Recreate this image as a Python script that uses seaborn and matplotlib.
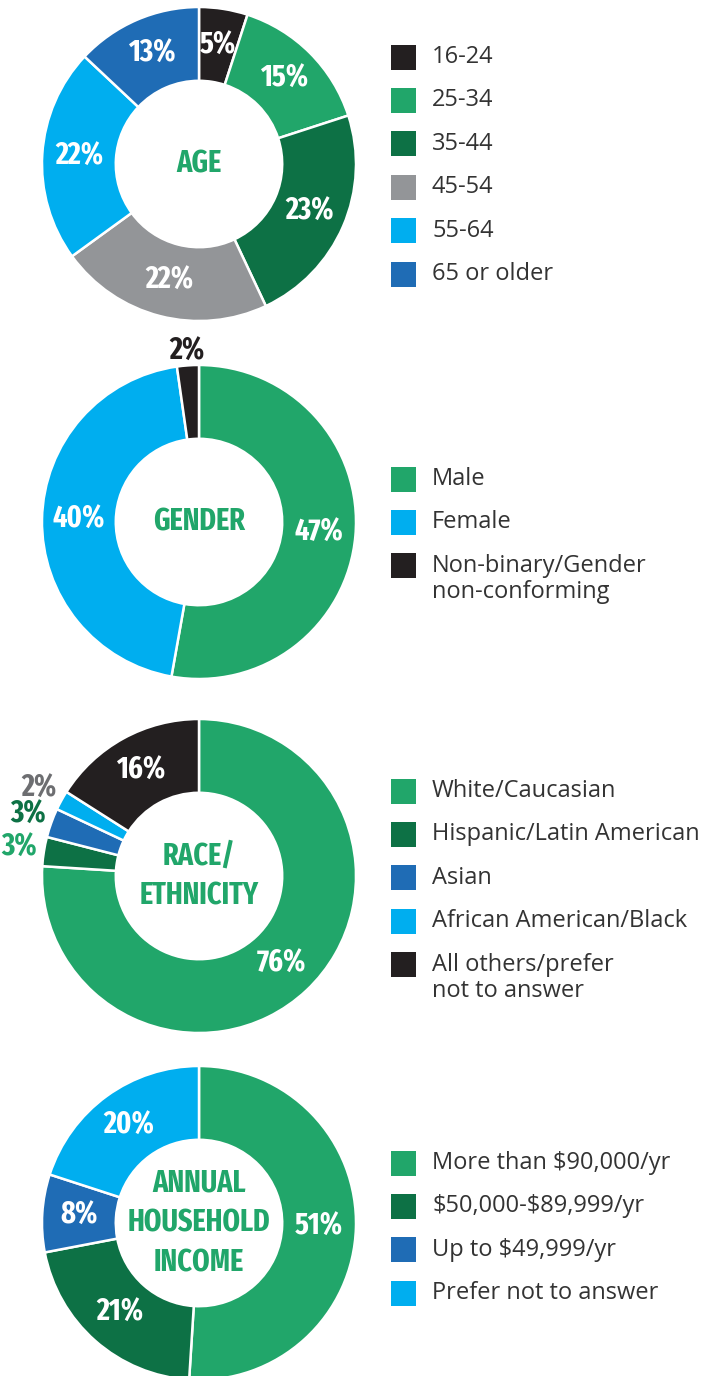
"""Survey demographics: four donut charts with side legends."""

import matplotlib.pyplot as plt
import numpy as np
import seaborn as sns
from matplotlib.patches import Rectangle

# ---- data -----------------------------------------------------------------
age_labels = ["16-24", "25-34", "35-44", "45-54", "55-64", "65 or older"]
age_values = [5, 15, 23, 22, 22, 13]

gender_labels = ["Male", "Female", "Non-binary/Gender\nnon-conforming"]
gender_values = [47, 40, 2]

race_labels = ["White/Caucasian", "Hispanic/Latin American", "Asian",
               "African American/Black", "All others/prefer\nnot to answer"]
race_values = [76, 3, 3, 2, 16]

income_labels = ["More than $90,000/yr", "$50,000-$89,999/yr",
                 "Up to $49,999/yr", "Prefer not to answer"]
income_values = [51, 21, 8, 20]

# ---- styles ---------------------------------------------------------------
BLACK = "#231f20"
GREEN = "#21a66a"
DKGREEN = "#0d7145"
GREY = "#939598"
LTBLUE = "#00aeef"
BLUE = "#1f6cb5"
TEXT = "#333333"

W, H = 709, 1376
R_PX = 157
CX = 199

charts = [
    dict(title="AGE", labels=age_labels, values=age_values, cy=164,
         colors=[BLACK, GREEN, DKGREEN, GREY, LTBLUE, BLUE],
         outside={}, legend_y=57),
    dict(title="GENDER", labels=gender_labels, values=gender_values, cy=522,
         colors=[GREEN, LTBLUE, BLACK],
         outside={2: BLACK}, legend_y=479),
    dict(title="RACE/\nETHNICITY", labels=race_labels, values=race_values, cy=876,
         colors=[GREEN, DKGREEN, BLUE, LTBLUE, BLACK],
         outside={1: GREEN, 2: DKGREEN, 3: "#6d6e71"}, legend_y=791),
    dict(title="ANNUAL\nHOUSEHOLD\nINCOME", labels=income_labels, values=income_values,
         cy=1223, colors=[GREEN, DKGREEN, BLUE, LTBLUE],
         outside={}, legend_y=1163),
]

sns.set_theme(style="white")
COND = ["Fira Sans Extra Condensed", "DejaVu Sans"]
plt.rcParams["font.family"] = ["Open Sans", "DejaVu Sans"]

fig = plt.figure(figsize=(W / 100, H / 100), dpi=100)
fig.patch.set_facecolor("white")

# overlay axes in pixel coordinates for the legends
lax = fig.add_axes([0, 0, 1, 1])
lax.set_xlim(0, W)
lax.set_ylim(H, 0)
lax.axis("off")

INNER = 0.53
LABEL_R = (1 + INNER) / 2

for ch in charts:
    cy = ch["cy"]
    rect = [(CX - R_PX) / W, 1 - (cy + R_PX) / H, 2 * R_PX / W, 2 * R_PX / H]
    ax = fig.add_axes(rect)
    wedges, _ = ax.pie(
        ch["values"], colors=ch["colors"], startangle=90, counterclock=False,
        radius=1, wedgeprops=dict(width=1 - INNER, edgecolor="white", linewidth=1.8),
    )
    ax.set_xlim(-1, 1)
    ax.set_ylim(-1, 1)
    ax.set_aspect("equal")
    ax.axis("off")

    for i, (w, v) in enumerate(zip(wedges, ch["values"])):
        ang = np.deg2rad((w.theta1 + w.theta2) / 2)
        if i in ch["outside"]:
            r = 1.09 if ch["title"] == "GENDER" else 1.16
            color = ch["outside"][i]
        else:
            r = LABEL_R
            color = "white"
        ax.text(r * np.cos(ang), r * np.sin(ang), f"{v}%", ha="center", va="center",
                fontsize=22, fontweight="bold", color=color, family=COND,
                clip_on=False)

    ax.text(0, 0, ch["title"], ha="center", va="center", fontsize=22,
            fontweight="bold", color=GREEN, family=COND, linespacing=1.42)

    # legend: square + label, extra lines of a label go below the first
    for i, (lab, col) in enumerate(zip(ch["labels"], ch["colors"])):
        y = ch["legend_y"] + i * 43.4
        lax.add_patch(Rectangle((391, y - 12.5), 25, 25, facecolor=col, edgecolor="none"))
        for j, line in enumerate(lab.split("\n")):
            lax.text(432, y + j * 26.5, line, ha="left", va="center", fontsize=17,
                     color=TEXT, parse_math=False)

fig.savefig("out.png", dpi=100, facecolor="white")
